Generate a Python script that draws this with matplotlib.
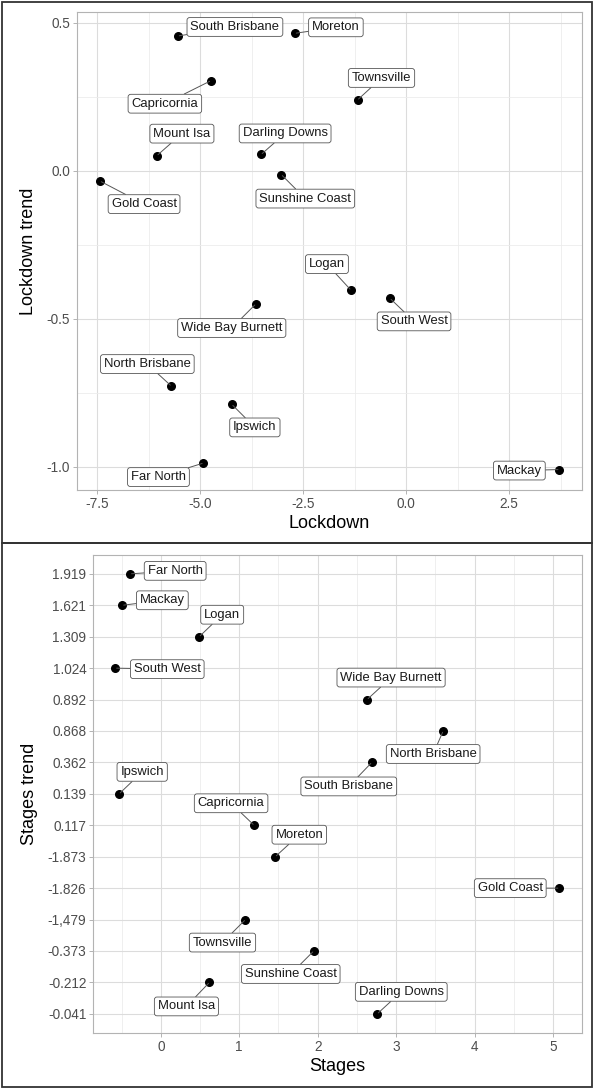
import numpy as np
import matplotlib
matplotlib.use("Agg")
import matplotlib.pyplot as plt
from matplotlib.patches import Rectangle
from matplotlib.ticker import MultipleLocator, FixedLocator

plt.rcParams['font.family'] = ['Liberation Sans', 'DejaVu Sans']

# ---- data: lockdown panel ----
lock_regions = ["South Brisbane", "Moreton", "Capricornia", "Townsville", "Mount Isa",
                "Darling Downs", "Gold Coast", "Sunshine Coast", "Logan", "South West",
                "Wide Bay Burnett", "North Brisbane", "Ipswich", "Far North", "Mackay"]
lockdown = [-5.54, -2.70, -4.74, -1.18, -6.05, -3.52, -7.43, -3.03, -1.34, -0.39,
            -3.65, -5.70, -4.23, -4.92, 3.72]
lockdown_trend = [0.455, 0.464, 0.304, 0.239, 0.051, 0.055, -0.035, -0.013, -0.403, -0.431,
                  -0.450, -0.727, -0.789, -0.987, -1.009]

# ---- data: stages panel (trend axis is categorical) ----
stage_levels = ["-0.041", "-0.212", "-0.373", "-1,479", "-1.826", "-1.873", "0.117",
                "0.139", "0.362", "0.868", "0.892", "1.024", "1.309", "1.621", "1.919"]
stage_regions = ["Far North", "Mackay", "Logan", "South West", "Wide Bay Burnett",
                 "North Brisbane", "South Brisbane", "Ipswich", "Capricornia", "Moreton",
                 "Gold Coast", "Townsville", "Sunshine Coast", "Mount Isa", "Darling Downs"]
stages = [-0.39, -0.49, 0.49, -0.58, 2.63, 3.60, 2.69, -0.53, 1.19, 1.46,
          5.08, 1.08, 1.95, 0.62, 2.76]
stages_trend = ["1.919", "1.621", "1.309", "1.024", "0.892", "0.868", "0.362", "0.139",
                "0.117", "-1.873", "-1.826", "-1,479", "-0.373", "-0.212", "-0.041"]

# label offsets (pixels, right/up) for the repel-style labels
lock_offsets = [(57, 9), (41, 6), (-46, -23), (24, 22), (25, 22), (24, 21), (44, -23),
                (24, -24), (-24, 26), (24, -23), (-24, -24), (-24, 22), (23, -23),
                (-45, -14), (-40, -1)]
stage_offsets = [(45, 3), (40, 5), (23, 22), (52, -1), (24, 22), (-10, -23), (-23, -24),
                 (23, 22), (-23, 22), (24, 22), (-49, 0), (-23, -23), (-23, -23),
                 (-23, -24), (24, 22)]

W, H = 597, 1090
fig = plt.figure(figsize=(W / 100, H / 100), dpi=100)

GRID_MAJ = '#DCDCDC'
GRID_MIN = '#ECECEC'


def style_axes(ax):
    for s in ax.spines.values():
        s.set_color('#B3B3B3')
        s.set_linewidth(0.8)
    ax.grid(True, which='major', color=GRID_MAJ, lw=0.8)
    ax.grid(True, which='minor', color=GRID_MIN, lw=0.6)
    ax.set_axisbelow(True)
    ax.tick_params(which='major', length=3, width=0.7, color='#B3B3B3',
                   labelsize=9.8, labelcolor='#4D4D4D', pad=2)
    ax.tick_params(which='minor', length=0)


def label_points(ax, xs, ys, names, offsets):
    for x, y, n, (dx, dy) in zip(xs, ys, names, offsets):
        ax.annotate(n, (x, y), xytext=(dx * 0.72, dy * 0.72), textcoords='offset points',
                    ha='center', va='center', fontsize=9.4, color='#1a1a1a',
                    bbox=dict(boxstyle='round,pad=0.26,rounding_size=0.2', fc='white',
                              ec='#555555', lw=0.6),
                    arrowprops=dict(arrowstyle='-', color='#555555', lw=0.7,
                                    shrinkA=0, shrinkB=1))


# ---- top panel ----
ax1 = fig.add_axes([77 / W, (H - 490) / H, 505 / W, 478 / H])
ax1.scatter(lockdown, lockdown_trend, s=30, color='black', zorder=3)
label_points(ax1, lockdown, lockdown_trend, lock_regions, lock_offsets)
ax1.set_xlim(-7.99, 4.27)
ax1.set_ylim(-1.078, 0.536)
ax1.xaxis.set_major_locator(MultipleLocator(2.5))
ax1.xaxis.set_minor_locator(MultipleLocator(1.25))
ax1.yaxis.set_major_locator(MultipleLocator(0.5))
ax1.yaxis.set_minor_locator(MultipleLocator(0.25))
ax1.set_xticks([-7.5, -5.0, -2.5, 0.0, 2.5])
ax1.set_xticklabels(["-7.5", "-5.0", "-2.5", "0.0", "2.5"])
ax1.set_yticks([-1.0, -0.5, 0.0, 0.5])
ax1.set_yticklabels(["-1.0", "-0.5", "0.0", "0.5"])
style_axes(ax1)
ax1.set_xlabel("Lockdown", fontsize=13, labelpad=3)
ax1.set_ylabel("Lockdown trend", fontsize=13, labelpad=7)

# ---- bottom panel ----
ax2 = fig.add_axes([93.3 / W, (H - 1032.7) / H, 488.7 / W, 477.7 / H])
ypos = [stage_levels.index(v) + 1 for v in stages_trend]
ax2.scatter(stages, ypos, s=30, color='black', zorder=3)
label_points(ax2, stages, ypos, stage_regions, stage_offsets)
ax2.set_xlim(-0.86, 5.37)
ax2.set_ylim(0.4, len(stage_levels) + 0.6)
ax2.xaxis.set_major_locator(MultipleLocator(1))
ax2.xaxis.set_minor_locator(MultipleLocator(0.5))
ax2.yaxis.set_major_locator(FixedLocator(range(1, len(stage_levels) + 1)))
ax2.set_yticklabels(stage_levels)
style_axes(ax2)
ax2.set_xlabel("Stages", fontsize=13, labelpad=3)
ax2.set_ylabel("Stages trend", fontsize=13, labelpad=7)

# panel frames
for (y0, y1) in [(2, 543), (543, 1087)]:
    fig.patches.append(Rectangle((2 / W, (H - y1) / H), 590 / W, (y1 - y0) / H,
                                 transform=fig.transFigure, fill=False,
                                 ec='#333333', lw=1.3))

fig.savefig("out.png", dpi=100)
